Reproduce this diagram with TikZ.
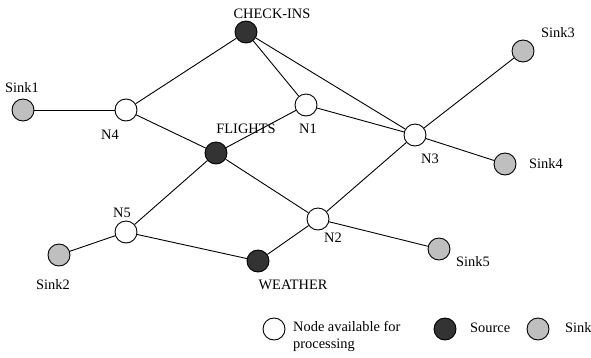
\documentclass[tikz,border=0pt]{standalone}
\usepackage{fontspec}
\setmainfont{Liberation Serif}
\begin{document}
\begin{tikzpicture}[x=1pt,y=-1pt,
  base/.style={circle,draw=black,line width=0.9pt,minimum size=22pt,inner sep=0pt},
  proc/.style={base,fill=white},
  src/.style={base,fill=black!80},
  snk/.style={base,fill=black!25},
  lbl/.style={font=\fontsize{14.4}{17}\selectfont,inner sep=0pt},
  edge/.style={line width=0.9pt}]
\useasboundingbox (0,0) rectangle (591,357);
% nodes
\node[src] (chk) at (246,32) {};
\node[src] (fl) at (216,153) {};
\node[src] (we) at (258,261) {};
\node[proc] (n1) at (306,105) {};
\node[proc] (n2) at (318,219) {};
\node[proc] (n3) at (415,135) {};
\node[proc] (n4) at (126,110) {};
\node[proc] (n5) at (126,232) {};
\node[snk] (s1) at (23,110) {};
\node[snk] (s2) at (59,255) {};
\node[snk] (s3) at (523,51) {};
\node[snk] (s4) at (505,164) {};
\node[snk] (s5) at (439,249) {};
% labels
\node[lbl] (lchk) at (272,14) {CHECK-INS};
\node[lbl] (lfl) at (246,129) {FLIGHTS};
\node[lbl] (lwe) at (293,285) {WEATHER};
\node[lbl] (ln1) at (308,129) {N1};
\node[lbl] (ln2) at (333,238) {N2};
\node[lbl] (ln3) at (430,159) {N3};
\node[lbl] (ln4) at (110,135) {N4};
\node[lbl] (ln5) at (122,213) {N5};
\node[lbl] (ls1) at (22,88) {Sink1};
\node[lbl] (ls2) at (53,285) {Sink2};
\node[lbl] (ls3) at (558,33) {Sink3};
\node[lbl] (ls4) at (546,164) {Sink4};
\node[lbl] (ls5) at (473,262) {Sink5};
% edges
\draw[edge] (chk) -- (n4);
\draw[edge] (chk) -- (n1);
\draw[edge] (chk) -- (n3);
\draw[edge] (s1) -- (n4);
\draw[edge] (n4) -- (fl);
\draw[edge] (fl) -- (n1);
\draw[edge] (n1) -- (n3);
\draw[edge] (n3) -- (s3);
\draw[edge] (n3) -- (s4);
\draw[edge] (n3) -- (n2);
\draw[edge] (fl) -- (n5);
\draw[edge] (fl) -- (n2);
\draw[edge] (n2) -- (s5);
\draw[edge] (n2) -- (we);
\draw[edge] (n5) -- (we);
\draw[edge] (n5) -- (s2);
% legend
\node[proc] (kp) at (274,329) {};
\node[lbl,anchor=west,align=left] (kpt) at (293,336) {Node available for\\processing};
\node[src] (ks) at (445,329) {};
\node[lbl,anchor=west] (kst) at (470,328) {Source};
\node[snk] (kk) at (538,329) {};
\node[lbl,anchor=west] (kkt) at (565,328) {Sink};
\end{tikzpicture}
\end{document}
